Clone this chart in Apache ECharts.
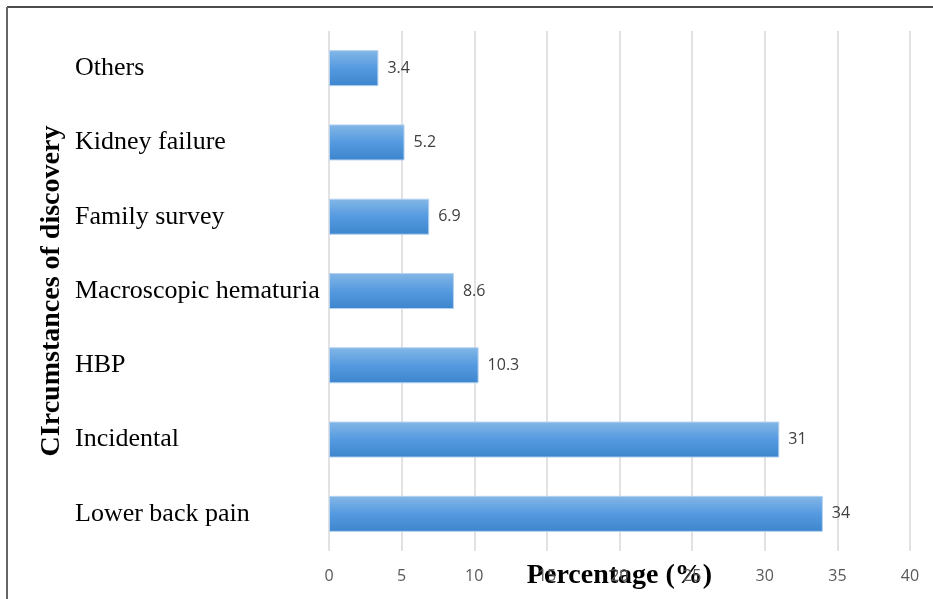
<!DOCTYPE html>
<html>
<head>
<meta charset="utf-8">
<script src="https://cdn.jsdelivr.net/npm/echarts@6/dist/echarts.min.js"></script>
<style>
  html, body { margin: 0; padding: 0; background: #fff; }
  #chart { width: 933px; height: 599px; }
</style>
</head>
<body>
<div id="chart"></div>
<script>
// categories from bottom to top
const categories = ['Lower back pain', 'Incidental', 'HBP', 'Macroscopic hematuria', 'Family survey', 'Kidney failure', 'Others']
const percentages = [34, 31, 10.3, 8.6, 6.9, 5.2, 3.4]
const xTicks = [0, 40, 5] // min, max, step

const chart = echarts.init(document.getElementById('chart'))

chart.setOption({
  animation: false,
  grid: { left: 329, right: 23, top: 31, bottom: 48, containLabel: false, outerBoundsMode: 'none' },
  xAxis: {
    type: 'value',
    min: xTicks[0],
    max: xTicks[1],
    interval: xTicks[2],
    name: 'Percentage (%)',
    nameLocation: 'middle',
    nameGap: 11,
    nameMoveOverlap: false,
    nameTextStyle: { fontFamily: 'Liberation Serif', fontWeight: 'bold', fontSize: 28, color: '#000' },
    axisLine: { show: false },
    axisTick: { show: false },
    axisLabel: { fontFamily: 'Open Sans', fontSize: 16, color: '#595959', margin: 17 },
    splitLine: { show: true, lineStyle: { color: '#d9d9d9', width: 1.5 } }
  },
  yAxis: {
    type: 'category',
    data: categories,
    name: 'CIrcumstances of discovery',
    nameLocation: 'middle',
    nameRotate: 90,
    nameGap: 263,
    nameMoveOverlap: false,
    nameTextStyle: { fontFamily: 'Liberation Serif', fontWeight: 'bold', fontSize: 28, color: '#000' },
    axisLine: { show: false },
    axisTick: { show: false },
    axisLabel: { fontFamily: 'Liberation Serif', fontSize: 26, color: '#000', align: 'left', margin: 254 }
  },
  series: [{
    type: 'bar',
    data: percentages,
    barWidth: 36,
    itemStyle: {
      color: new echarts.graphic.LinearGradient(0, 0, 0, 1, [
        { offset: 0, color: '#84b7e6' },
        { offset: 0.5, color: '#559ae0' },
        { offset: 1, color: '#3c85cc' }
      ]),
      borderColor: '#b3d1f0',
      borderWidth: 1
    },
    label: {
      show: true,
      position: 'right',
      distance: 9,
      fontFamily: 'Open Sans',
      fontSize: 16,
      color: '#404040'
    }
  }],
  graphic: [
    { type: 'line', shape: { x1: 7, y1: 7, x2: 933, y2: 7 }, style: { stroke: '#111', lineWidth: 1.5 } },
    { type: 'line', shape: { x1: 7, y1: 7, x2: 7, y2: 599 }, style: { stroke: '#666', lineWidth: 2 } }
  ]
})
</script>
</body>
</html>
